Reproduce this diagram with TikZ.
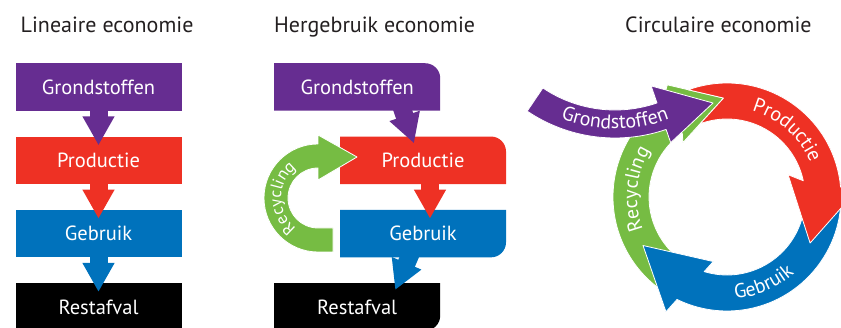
\documentclass[tikz,border=0pt]{standalone}
\usepackage{fontspec}
\setmainfont{PT Sans}
\usepackage{tikz}
\usetikzlibrary{arrows.meta,positioning,decorations.text}

\definecolor{cpurple}{HTML}{662D91}
\definecolor{cred}{HTML}{EE3124}
\definecolor{cblue}{HTML}{0072BC}
\definecolor{cgreen}{HTML}{76BC43}
\definecolor{ctitle}{HTML}{231F20}

\newcommand{\ringfont}{\color{white}\fontsize{20}{24}\selectfont}
\newcommand{\loopfont}{\color{white}\fontsize{17}{20}\selectfont}

\begin{document}
\begin{tikzpicture}[x=1pt,y=1pt,node distance=73.3pt,on grid,
        box/.style={minimum width=166pt,minimum height=47.5pt,inner sep=0pt,
            text=white,font=\fontsize{20.5}{24}\selectfont},
        title/.style={anchor=base west,inner sep=0pt,text=ctitle,font=\fontsize{22}{26}\selectfont},
        flow/.style={line width=18pt,-{Triangle[length=29pt,width=30pt]}},
        ring/.style={fill=#1,draw=white,line width=.8pt,line join=round}]
    \useasboundingbox (0,0) rectangle (841,328);
    \tikzset{rbox ne/.style={box,fill=white,path picture={
            \fill[#1] (path picture bounding box.south west) -- (path picture bounding box.north west)
                -- ([xshift=-15pt]path picture bounding box.north east) arc[start angle=90,end angle=0,radius=15pt]
                -- (path picture bounding box.south east) -- cycle;}},
        rbox se/.style={box,fill=white,path picture={
            \fill[#1] (path picture bounding box.south west) -- (path picture bounding box.north west)
                -- (path picture bounding box.north east) -- ([yshift=15pt]path picture bounding box.south east)
                arc[start angle=0,end angle=-90,radius=15pt] -- cycle;}}}

    \node[title] (t1) at (20.5,295.7) {Lineaire economie};
    \node[title] (t2) at (274,295.7) {Hergebruik economie};
    \node[title] (t3) at (625,295.7) {Circulaire economie};

    % lineair
    \node[box,fill=cpurple] (g1) at (98.5,241) {Grondstoffen};
    \node[box,fill=cred] (p1) [below=of g1] {Productie};
    \node[box,fill=cblue] (ge1) [below=of p1] {Gebruik};
    \node[box,fill=black] (r1) [below=of ge1] {Restafval};
    \draw[flow,cpurple] ([yshift=3pt]g1.south) -- ([yshift=-9pt]p1.north);
    \draw[flow,cred] ([yshift=3pt]p1.south) -- ([yshift=-9pt]ge1.north);
    \draw[flow,cblue] ([yshift=3pt]ge1.south) -- ([yshift=-9pt]r1.north);

    % hergebruik
    \node[rbox ne=cpurple] (g2) at (357.2,241) {Grondstoffen};
    \node[rbox ne=cred] (p2) [below right=73.3pt and 65.8pt of g2] {Productie};
    \node[rbox se=cblue] (ge2) [below=of p2] {Gebruik};
    \node[rbox se=black] (r2) [below left=73.3pt and 65.8pt of ge2] {Restafval};
    \coordinate (rc) at (318,130);
    \path[ring=cgreen] ([shift={(rc)}]15,-30) -- ([shift={(rc)}]0,-30) arc[start angle=270,end angle=90,radius=30]
        -- ([shift={(rc)}]0,18) -- ([shift={(rc)}]39,41) -- ([shift={(rc)}]0,63) -- ([shift={(rc)}]0,54)
        arc[start angle=90,end angle=270,radius=54] -- ([shift={(rc)}]15,-54) -- cycle;
    \path[decorate,decoration={text along path,text align=center,text={|\loopfont|Recycling}}]
        ([shift={(rc)}]250:37) arc[start angle=250,end angle=110,radius=37];
    \draw[flow,cpurple] ([xshift=43pt,yshift=8pt]g2.south) -- ([xshift=-9pt,yshift=-7pt]p2.north);
    \draw[flow,cred] ([xshift=7pt,yshift=3pt]p2.south) -- ([xshift=7pt,yshift=-9pt]ge2.north);
    \draw[flow,cblue] ([xshift=-11pt,yshift=7pt]ge2.south) -- ([xshift=38pt,yshift=-7pt]r2.north);

    % circulair
    \coordinate (C) at (727,131);
    \coordinate (P) at (615,347);
    \coordinate (ptip) at (713,225);
    \path[ring=cgreen] ([shift={(C)}]236:114) arc[start angle=236,end angle=125,radius=114]
        -- ([shift={(C)}]118:127) -- ([shift={(C)}]92:99) -- ([shift={(C)}]129:70) -- ([shift={(C)}]125:78)
        arc[start angle=125,end angle=236,radius=78] -- cycle;
    \path[ring=cblue] ([shift={(C)}]10:114) arc[start angle=10,end angle=-116,radius=114]
        -- ([shift={(C)}]242:130) -- ([shift={(C)}]210:97) -- ([shift={(C)}]258:66) -- ([shift={(C)}]253:78)
        arc[start angle=-107,end angle=10,radius=78] -- cycle;
    \path[ring=cred] ([shift={(C)}]109.9:114) arc[start angle=109.9,end angle=5,radius=114]
        -- ([shift={(C)}]3:130) -- ([shift={(C)}]-29:95) -- ([shift={(C)}]20:65) -- ([shift={(C)}]12:78)
        arc[start angle=12,end angle=110.15,radius=78] -- ([shift={(C)}]92:99) -- cycle;
    \path[ring=cpurple] ([shift={(P)}]236:129) arc[start angle=236,end angle=289,radius=129]
        -- ([shift={(P)}]289:111) -- (ptip) -- ([shift={(P)}]289:171) -- ([shift={(P)}]289:157)
        arc[start angle=289,end angle=236,radius=157] -- cycle;
    \path[decorate,decoration={text along path,text align=center,text={|\ringfont|Grondstoffen}}]
        ([shift={(P)}]240:148) arc[start angle=240,end angle=300,radius=148];
    \path[decorate,decoration={text along path,text align=center,text={|\ringfont|Productie}}]
        ([shift={(C)}]88:90) arc[start angle=88,end angle=8,radius=90];
    \path[decorate,decoration={text along path,text align=center,text={|\ringfont|Gebruik}}]
        ([shift={(C)}]-112:102) arc[start angle=-112,end angle=-22,radius=102];
    \path[decorate,decoration={text along path,text align=center,text={|\ringfont|Recycling}}]
        ([shift={(C)}]220:90) arc[start angle=220,end angle=130,radius=90];
\end{tikzpicture}
\end{document}
